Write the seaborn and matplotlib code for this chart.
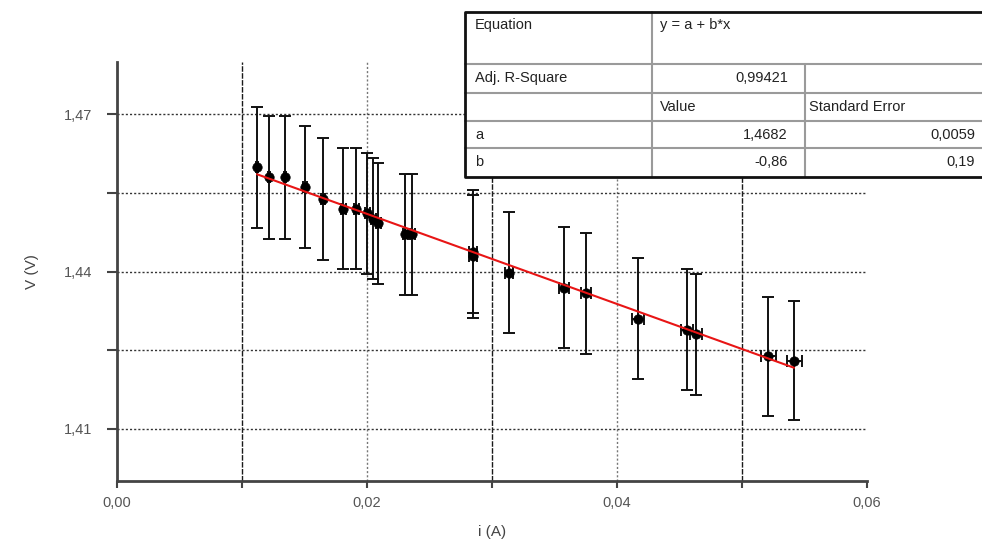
import matplotlib
matplotlib.use("Agg")
import matplotlib.pyplot as plt
from matplotlib.ticker import FuncFormatter
from matplotlib.patches import Rectangle
from matplotlib.lines import Line2D
import numpy as np
import pandas as pd
import seaborn as sns

# ---- data ----
current = [0.0112, 0.01216, 0.01344, 0.01504, 0.01648, 0.01808, 0.01912, 0.0200,
           0.02048, 0.02088, 0.02304, 0.0236, 0.02848, 0.02848, 0.03136, 0.03576,
           0.03752, 0.04168, 0.0456, 0.04632, 0.05208, 0.05416]
voltage = [1.4599, 1.4580, 1.4580, 1.4561, 1.4538, 1.4520, 1.4520, 1.4511,
           1.4501, 1.4492, 1.4471, 1.4471, 1.4438, 1.4429, 1.4398, 1.4369,
           1.4358, 1.4310, 1.4289, 1.4280, 1.4238, 1.4230]
voltage_err = [0.0116, 0.0117, 0.0117, 0.0116, 0.0116, 0.0116, 0.0116, 0.0115,
               0.0116, 0.0116, 0.0116, 0.0116, 0.0117, 0.0117, 0.0115, 0.0116,
               0.0115, 0.0116, 0.0116, 0.0115, 0.0114, 0.0114]
current_err = [0.0001, 0.0001, 0.0001, 0.00015, 0.00015, 0.0002, 0.0002, 0.0002,
               0.0002, 0.0002, 0.0002, 0.0002, 0.0003, 0.0003, 0.0003, 0.0004,
               0.0004, 0.0005, 0.0005, 0.0005, 0.0006, 0.0006]

fit_a = 1.4682
fit_b = -0.86

x_major = [0.00, 0.02, 0.04, 0.06]
x_minor = [0.01, 0.03, 0.05]
y_major = [1.41, 1.44, 1.47]
y_minor = [1.425, 1.455]

table_rows = [
    ["Equation", "y = a + b*x", ""],
    ["Adj. R-Square", "0,99421", ""],
    ["", "Value", "Standard Error"],
    ["a", "1,4682", "0,0059"],
    ["b", "-0,86", "0,19"],
]

# ---- style ----
sns.set_theme(style="white")
plt.rcParams["font.family"] = ["Liberation Sans", "DejaVu Sans"]

W, H = 982, 542
fig = plt.figure(figsize=(W / 100, H / 100), dpi=100)
fig.patch.set_facecolor("white")
ax = fig.add_axes([117 / W, 1 - 481 / H, 750 / W, 419 / H])
ax.set_facecolor("white")

df = pd.DataFrame({"i": current, "V": voltage, "di": current_err, "dV": voltage_err})

ax.errorbar(df["i"], df["V"], yerr=df["dV"], xerr=df["di"], fmt="none",
            ecolor="#111111", elinewidth=1.4, capsize=4, capthick=1.4, zorder=3)
sns.scatterplot(data=df, x="i", y="V", ax=ax, color="black", s=46,
                edgecolor="black", linewidth=0.5, zorder=4, legend=False)

xfit = np.array([min(current), max(current)])
fit_df = pd.DataFrame({"i": xfit, "V": fit_a + fit_b * xfit})
sns.lineplot(data=fit_df, x="i", y="V", ax=ax, color="#e81515", linewidth=1.5,
             zorder=5, legend=False)

ax.set_xlim(0, 0.06)
ax.set_ylim(1.40, 1.48)
ax.set_xticks(x_major)
ax.set_xticks(x_minor, minor=True)
ax.set_yticks(y_major)
ax.set_yticks(y_minor, minor=True)

fmt2 = FuncFormatter(lambda v, p: f"{v:.2f}".replace(".", ","))
ax.xaxis.set_major_formatter(fmt2)
ax.yaxis.set_major_formatter(fmt2)

for side in ["top", "right"]:
    ax.spines[side].set_visible(False)
for side in ["left", "bottom"]:
    ax.spines[side].set_color("#444444")
    ax.spines[side].set_linewidth(2)

ax.tick_params(axis="y", which="both", direction="out", length=7.5, width=1.5,
               color="#444444", left=True, pad=10, labelsize=10.5, labelcolor="#555555")
ax.tick_params(axis="x", which="both", direction="out", length=5, width=1.5,
               color="#444444", bottom=True, pad=6, labelsize=10.5, labelcolor="#555555")

# grid
ax.grid(which="both", axis="y", color="#333333", linestyle=(0, (1.5, 1.5)), linewidth=1)
ax.grid(which="minor", axis="x", color="#1a1a1a", linestyle=(0, (4, 1)), linewidth=1)
ax.grid(which="major", axis="x", color="#777777", linestyle=(0, (1.5, 1.5)), linewidth=1)
majticks = ax.xaxis.get_major_ticks()
majticks[0].gridline.set_visible(False)
majticks[-1].gridline.set_visible(False)
ax.set_axisbelow(True)

ax.set_xlabel("i (A)", fontsize=11, color="#444444")
ax.set_ylabel("V (V)", fontsize=11, color="#444444")
ax.xaxis.set_label_coords(0.5, -0.105)
ax.yaxis.set_label_coords(-0.104, 0.5)

# ---- fit table (figure pixel coordinates) ----
def fx(x):
    return x / W

def fy(y):
    return 1 - y / H

tl, tr, tt, tb = 465, 1000, 12, 177
fig.add_artist(Rectangle((fx(tl), fy(tb)), fx(tr) - fx(tl), fy(tt) - fy(tb),
                         transform=fig.transFigure, facecolor="white",
                         edgecolor="none", zorder=10))
row_lines = [64, 93, 121, 148]
for yy in row_lines:
    fig.add_artist(Line2D([fx(tl), fx(tr)], [fy(yy), fy(yy)], transform=fig.transFigure,
                          color="#9a9a9a", linewidth=1.5, zorder=11))
fig.add_artist(Line2D([fx(652), fx(652)], [fy(tt), fy(tb)], transform=fig.transFigure,
                      color="#9a9a9a", linewidth=1.5, zorder=11))
fig.add_artist(Line2D([fx(805), fx(805)], [fy(64), fy(tb)], transform=fig.transFigure,
                      color="#9a9a9a", linewidth=1.5, zorder=11))
# outer border
fig.add_artist(Line2D([fx(tr), fx(tl), fx(tl), fx(tr)], [fy(tt), fy(tt), fy(tb), fy(tb)],
                      transform=fig.transFigure, color="#111111", linewidth=2, zorder=12))

row_y = [25, 78, 107, 135, 162]
col_pos = [(475, "left"), (788, "right"), (975, "right")]
for r, row in enumerate(table_rows):
    for c, txt in enumerate(row):
        if not txt:
            continue
        x, ha = col_pos[c]
        if r == 0 and c == 1:
            x, ha = 660, "left"
        if r == 2 and c == 1:
            x, ha = 660, "left"
        if r == 2 and c == 2:
            x, ha = 809, "left"
        fig.text(fx(x), fy(row_y[r]), txt, ha=ha, va="center", fontsize=10.5,
                 color="#222222", zorder=13)

fig.savefig("out.png", dpi=100, facecolor="white")
